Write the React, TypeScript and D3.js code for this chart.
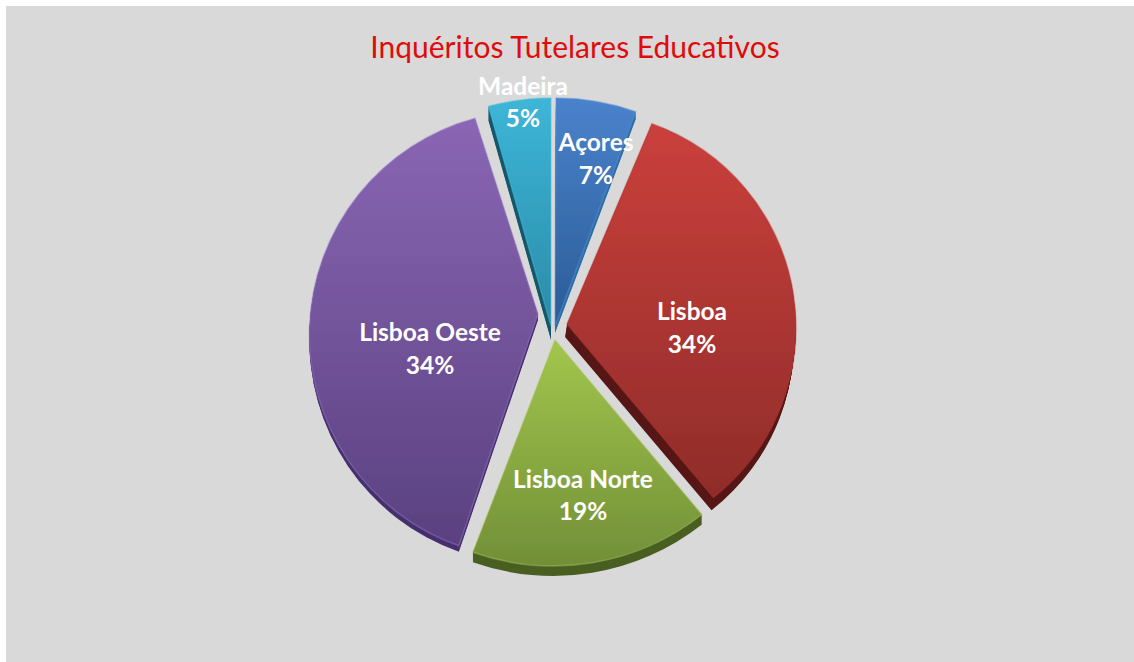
import React from "react";
import * as d3 from "d3";

const title = "Inquéritos Tutelares Educativos";
const categories = ["Açores", "Lisboa", "Lisboa Norte", "Lisboa Oeste", "Madeira"];
const percentLabels = ["7%", "34%", "19%", "34%", "5%"];
// slice sizes as drawn in the picture (the printed labels are rounded differently)
const sliceShares = [5.4, 34.0, 16.0, 40.4, 4.2];

const topColors = ["#4a82cc", "#cb403c", "#a2c64c", "#8a66b4", "#3db6d8"];
const bottomColors = ["#2a5c96", "#8f2c29", "#728f38", "#5a4180", "#2b8ba8"];
const sideColors = ["#2f6da6", "#571a18", "#4a5f24", "#46306e", "#17586c"];
const rimColors = ["#5a92d8", "#b83634", "#a8c860", "#9a7cc8", "#4cc0dc"];

// layout of each exploded slice: arc centre, radius, tip, extrusion direction
const arcCX = [556, 580, 553, 533.4, 551];
const arcCY = [338, 327.5, 325, 334.5, 338];
const radii = [240, 216, 241, 224, 240];
const tipX = [555, 567, 555, 538, 551];
const tipY = [326, 324, 340, 314, 326];
const depths = [7, 13, 10, 6, 14];
const leanX = [0, -0.15, 0, 0, 0];
const labelX = [596, 692, 583, 430, 523];
const labelY = [151, 320, 488, 341, 95];
const pctY = [184, 353, 520, 374, 127];

const W = 1134;
const H = 662;

const pie = d3.pie<number>().sort(null).startAngle(0).endAngle(2 * Math.PI)(sliceShares);

function slicePath(i: number): string {
  const p = d3.path();
  // canvas arc angle 0 is at 3 o'clock, pie angle 0 at 12 o'clock
  const a0 = pie[i].startAngle - Math.PI / 2;
  const a1 = pie[i].endAngle - Math.PI / 2;
  p.moveTo(tipX[i], tipY[i]);
  p.arc(arcCX[i], arcCY[i], radii[i], a0, a1);
  p.closePath();
  return p.toString();
}

export default function App() {
  const order = [0, 4, 3, 1, 2];
  return (
    <svg
      width={W}
      height={H}
      viewBox={`0 0 ${W} ${H}`}
      style={{ position: "fixed", left: 0, top: 0, display: "block", background: "#fff" }}
    >
      <defs>
        {categories.map((_, i) => (
          <linearGradient key={i} id={`face${i}`} x1="0" y1="0" x2="0" y2="1">
            <stop offset="0" stopColor={topColors[i]} />
            <stop offset="1" stopColor={bottomColors[i]} />
          </linearGradient>
        ))}
        <filter id="soft" x="-5%" y="-5%" width="110%" height="110%">
          <feGaussianBlur stdDeviation="0.5" />
        </filter>
      </defs>
      <rect x={6} y={6} width={W - 6} height={H - 6} fill="#d9d9d9" />
      <text
        x={575}
        y={58}
        textAnchor="middle"
        fontFamily="Lato, Carlito, sans-serif"
        fontSize={30}
        fill="#e00b0b"
      >
        {title}
      </text>
      {order.map((i) => {
        const d = slicePath(i);
        return (
          <g key={i} filter="url(#soft)">
            {d3.range(depths[i], 0, -1).map((k) => (
              <path key={k} d={d} transform={`translate(${k * leanX[i]},${k})`} fill={sideColors[i]} />
            ))}
            <path d={d} fill={`url(#face${i})`} stroke={rimColors[i]} strokeOpacity={0.45} strokeWidth={1.5} />
          </g>
        );
      })}
      {categories.map((c, i) => (
        <g
          key={c}
          fontFamily="Lato, Carlito, sans-serif"
          fontWeight={700}
          fontSize={24.5}
          fill="#fff"
          textAnchor="middle"
        >
          <text x={labelX[i]} y={labelY[i]}>{c}</text>
          <text x={labelX[i]} y={pctY[i]}>{percentLabels[i]}</text>
        </g>
      ))}
    </svg>
  );
}
